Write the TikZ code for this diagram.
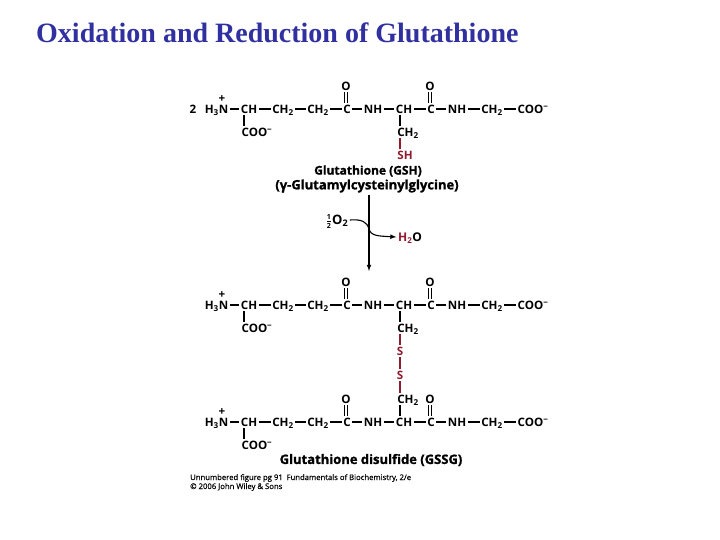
\documentclass[tikz,border=0pt]{standalone}
\usepackage{fontspec}
\usepackage{xcolor}
\setmainfont{Liberation Serif}
\newfontfamily\chemfont{Open Sans}
\newfontfamily\namefont[BoldFeatures={FakeBold=1.2}]{Open Sans}
\newfontfamily\printfont[UprightFeatures={FakeBold=0.4}]{Open Sans}
\usetikzlibrary{arrows}
\definecolor{titleblue}{HTML}{3030A0}
\definecolor{sulfur}{HTML}{8E1B2E}
\tikzstyle{atom} = [inner sep=1.5pt, text height=9pt, text depth=0pt, font=\chemfont\bfseries\fontsize{11.6}{12}\selectfont]
\tikzstyle{bond} = [draw, line width=1.1pt]
\tikzstyle{redbond} = [draw, line width=1.2pt, sulfur]
\tikzstyle{line} = [draw, line width=1.1pt, -latex]
\tikzstyle{namelabel} = [inner sep=0pt, font=\namefont\bfseries\fontsize{13}{13}\selectfont]
\tikzstyle{smallprint} = [inner sep=0pt, anchor=west, font=\printfont\fontsize{7.7}{8}\selectfont]

% one peptide backbone, #1 = prefix of the node names, #2 = y of the row
\newcommand{\peptiderow}[2]{
    \foreach \name/\px/\txt in {ca/249/CH, cb/283/{CH\textsubscript{2}}, cc/318/{CH\textsubscript{2}}, c1/347/C,
            nh1/373/NH, cd/404/CH, c2/431/C, nh2/457/NH, ce/492/{CH\textsubscript{2}}, coo/533/{COO\textsuperscript{−}}}{
        \node[atom] (#1\name) at (\px,#2) {\txt};
    }
    \node[atom, anchor=east] (#1n) at (230,#2) {H\textsubscript{3}N};
    \node[atom, inner sep=0pt, text height=5pt] (#1plus) at (222,#2-9) {+};
    \node[atom] (#1o1) at (346,#2-23) {O};
    \node[atom] (#1o2) at (430,#2-23) {O};
    \node[atom] (#1tail) at (257,#2+23) {COO\textsuperscript{−}};
    \foreach \a/\b in {n/ca, ca/cb, cb/cc, cc/c1, c1/nh1, nh1/cd, cd/c2, c2/nh2, nh2/ce, ce/coo}{
        \path[bond] (#1\a) -- (#1\b);
    }
    \path[bond, double, double distance=1.8pt] ([xshift=-1pt]#1c1.north) -- (#1o1.south);
    \path[bond, double, double distance=1.8pt] ([xshift=-1pt]#1c2.north) -- (#1o2.south);
    \path[bond] ([xshift=-5pt]#1ca.south) -- ([xshift=-13pt]#1tail.north);
}

\begin{document}
\begin{tikzpicture}[x=1pt, y=-1pt]
    \useasboundingbox (0,0) rectangle (720,540);

    \node[inner sep=0pt, anchor=west, text=titleblue, font=\bfseries\fontsize{28}{28}\selectfont] (title) at (36,33) {Oxidation and Reduction of Glutathione};

    % glutathione
    \node[atom] (two) at (193,109) {2};
    \peptiderow{a}{109}
    \node[atom] (ach) at (408,132) {CH\textsubscript{2}};
    \node[atom, text=sulfur] (ash) at (405,155) {SH};
    \path[bond] ([xshift=-4pt]acd.south) -- ([xshift=-8pt]ach.north);
    \path[redbond] ([xshift=-8pt]ach.south) -- ([xshift=-5pt]ash.north);
    \node[namelabel, font=\namefont\bfseries\fontsize{12}{12}\selectfont] (gsh) at (368,171) {Glutathione (GSH)};
    \node[namelabel] (gshname) at (367,186) {(γ-Glutamylcysteinylglycine)};

    % oxidation arrow
    \coordinate (start) at (369,195);
    \coordinate (stop) at (369,271);
    \node[atom, font=\chemfont\bfseries\fontsize{13}{13}\selectfont] (otwo) at (337,220) {$\frac{\mbox{\fontsize{7}{7}\selectfont 1}}{\mbox{\fontsize{7}{7}\selectfont 2}}$O\textsubscript{2}};
    \node[atom, font=\chemfont\bfseries\fontsize{12}{12}\selectfont] (water) at (410,237) {\textcolor{sulfur}{H\textsubscript{2}}O};
    \path[line] (start) -- (stop);
    \path[line] (otwo.east) .. controls (362,219) and (367,222) .. (369,229) .. controls (371,236) and (378,236) .. (water.west);

    % glutathione disulfide
    \peptiderow{b}{305}
    \node[atom] (bch) at (408,328) {CH\textsubscript{2}};
    \node[atom, text=sulfur] (bs) at (400,351) {S};
    \node[atom, text=sulfur] (cs) at (400,375) {S};
    \node[atom] (cch) at (408,399) {CH\textsubscript{2}};
    \path[bond] ([xshift=-4pt]bcd.south) -- ([xshift=-8pt]bch.north);
    \path[redbond] ([xshift=-8pt]bch.south) -- (bs);
    \path[redbond] (bs) -- (cs);
    \path[redbond] (cs) -- ([xshift=-8pt]cch.north);
    \peptiderow{c}{422}
    \path[bond] ([xshift=-8pt]cch.south) -- ([xshift=-4pt]ccd.north);
    \node[namelabel] (gssg) at (371,460) {Glutathione disulfide (GSSG)};

    \node[smallprint] (credit) at (190,478) {Unnumbered figure pg 91\enspace Fundamentals of Biochemistry, 2/e};
    \node[smallprint] (copyr) at (190,487) {© 2006 John Wiley \& Sons};
\end{tikzpicture}
\end{document}
